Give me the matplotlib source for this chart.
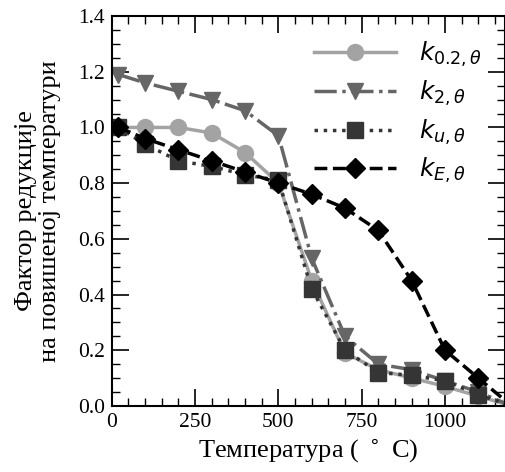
import matplotlib.pyplot as plt
from matplotlib.ticker import MultipleLocator

temps = [20, 100, 200, 300, 400, 500, 600, 700, 800, 900, 1000, 1100, 1200]
k_02 = [1.0, 1.0, 1.0, 0.98, 0.91, 0.80, 0.45, 0.19, 0.13, 0.10, 0.07, 0.035, 0.0]
k_2 = [1.19, 1.16, 1.13, 1.10, 1.06, 0.97, 0.53, 0.25, 0.15, 0.13, 0.09, 0.05, 0.0]
k_u = [1.0, 0.94, 0.88, 0.86, 0.83, 0.81, 0.42, 0.20, 0.12, 0.11, 0.09, 0.04, 0.0]
k_E = [1.0, 0.96, 0.92, 0.88, 0.84, 0.80, 0.76, 0.71, 0.63, 0.45, 0.20, 0.10, 0.0]

serif = "Liberation Serif"

fig = plt.figure(figsize=(5.06, 4.72), dpi=100)
ax = fig.add_axes([0.221, 0.140, 0.777, 0.826])

ax.plot(temps, k_02, "-o", color="#a3a3a3", lw=2.5, ms=11.5, label=r"$k_{0.2,\theta}$")
ax.plot(temps, k_2, "-.v", color="#666666", lw=2.5, ms=11.5, label=r"$k_{2,\theta}$")
ax.plot(temps, k_u, ":s", color="#353535", lw=2.5, ms=11.5, label=r"$k_{u,\theta}$")
ax.plot(temps, k_E, "--D", color="black", lw=2.5, ms=10.5, label=r"$k_{E,\theta}$")

ax.set_xlim(0, 1180)
ax.set_ylim(0, 1.4)
ax.xaxis.set_major_locator(MultipleLocator(250))
ax.xaxis.set_minor_locator(MultipleLocator(50))
ax.yaxis.set_major_locator(MultipleLocator(0.2))
ax.yaxis.set_minor_locator(MultipleLocator(0.05))
ax.yaxis.set_major_formatter(plt.FormatStrFormatter("%.1f"))
ax.tick_params(which="both", direction="in", top=True, right=True)
ax.tick_params(which="major", length=12, width=1.2, labelsize=15.5, pad=5)
ax.tick_params(which="minor", length=6, width=1.0)
for lbl in ax.get_xticklabels() + ax.get_yticklabels():
    lbl.set_fontfamily(serif)
for s in ax.spines.values():
    s.set_linewidth(1.5)

ax.set_xlabel("Температура ( $^\\circ$ C)", fontsize=19, family=serif, labelpad=4)
ax.set_ylabel("Фактор редукције\nна повишеној температури", fontsize=19, family=serif,
              linespacing=1.15, labelpad=12)

ax.legend(loc="upper right", frameon=False, fontsize=18, handlelength=3.3,
          handletextpad=0.9, borderaxespad=0.55, labelspacing=0.39)

fig.savefig("out.png", dpi=100)
